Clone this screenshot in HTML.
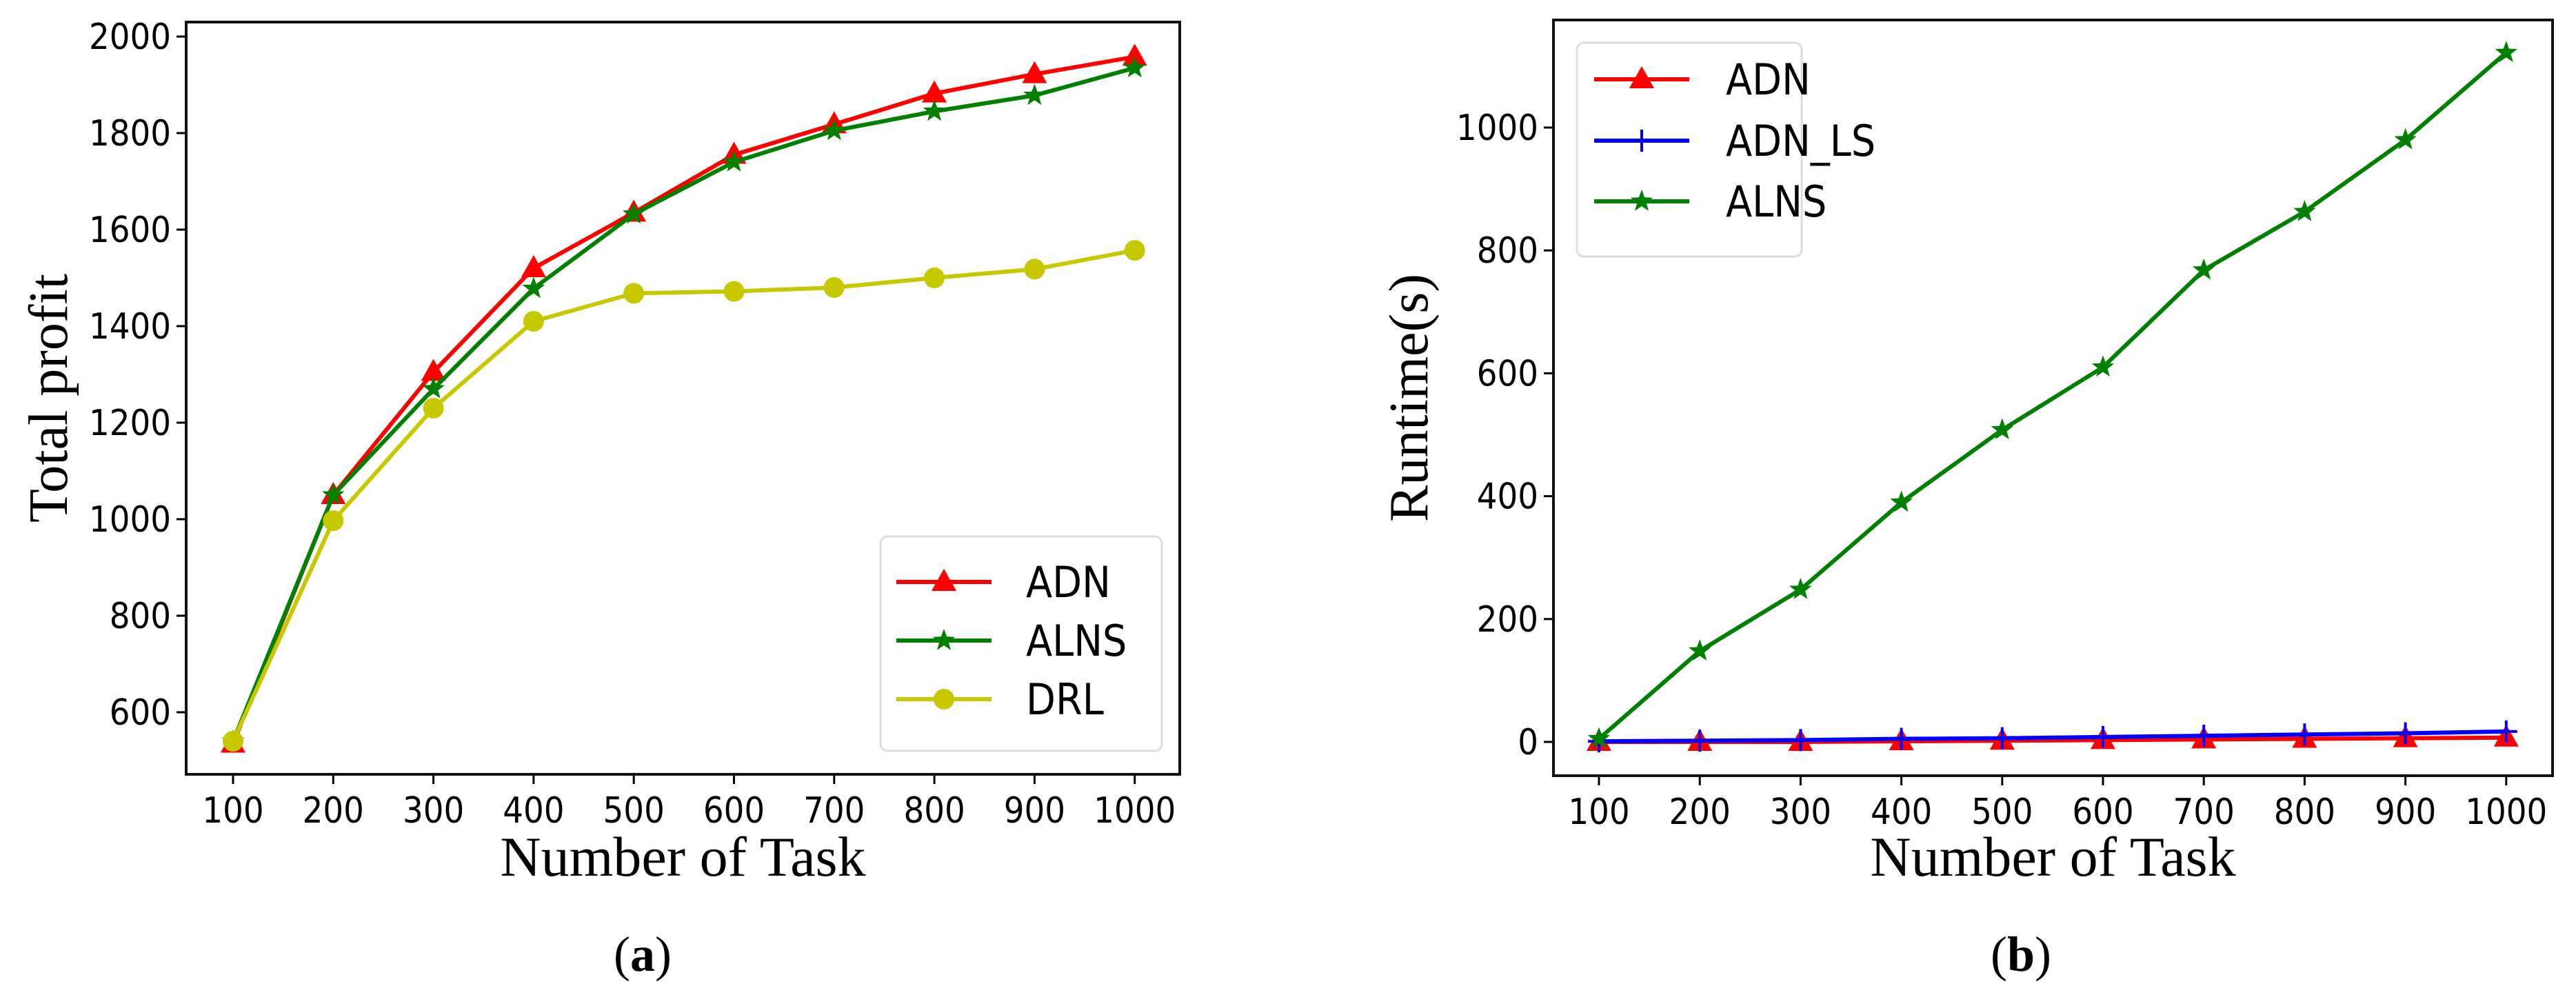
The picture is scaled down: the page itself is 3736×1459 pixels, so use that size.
<!DOCTYPE html>
<html><head><meta charset="utf-8"><style>
html,body{margin:0;padding:0;background:#fff}
svg{display:block}
text{font-family:"DejaVu Sans","Liberation Sans",sans-serif}
.serif{font-family:"Liberation Serif",serif}
</style></head><body>
<svg id="fig" width="3736" height="1459" viewBox="0 0 3736 1459" xmlns="http://www.w3.org/2000/svg"></svg>
<script>
const categories = [100,200,300,400,500,600,700,800,900,1000];
const profitADN  = [535,1050,1305,1520,1635,1755,1818,1882,1922,1958];
const profitALNS = [540,1050,1270,1478,1632,1740,1805,1845,1878,1935];
const profitDRL  = [540,997,1230,1410,1468,1472,1480,1500,1518,1557];
const profitTicks = [600,800,1000,1200,1400,1600,1800,2000];
const runADN   = [0,0,0,1,2,3,4,5,6,7];
const runADNLS = [1,2,3,5,6,8,10,12,14,17];
const runALNS  = [5,148,248,390,508,610,768,863,980,1122];
const runTicks = [0,200,400,600,800,1000];

const NS="http://www.w3.org/2000/svg";
const svg=document.getElementById('fig');
function mk(tag,attrs,parent,txt){const e=document.createElementNS(NS,tag);for(const k in attrs)e.setAttribute(k,attrs[k]);if(txt!==undefined)e.textContent=txt;(parent||svg).appendChild(e);return e;}

function marker(g,type,x,y,color){
  let e;
  if(type==='tri'){e=mk('polygon',{points:`${x},${y-19} ${x-18},${y+13} ${x+18},${y+13}`,fill:color},g);}
  else if(type==='star'){let p=[];for(let i=0;i<10;i++){const r=i%2?7:17,a=-Math.PI/2+i*Math.PI/5;p.push((x+r*Math.cos(a)).toFixed(1)+','+(y+r*Math.sin(a)).toFixed(1));}e=mk('polygon',{points:p.join(' '),fill:color},g);}
  else if(type==='circle'){e=mk('circle',{cx:x,cy:y,r:15,fill:color},g);}
  else if(type==='plus'){e=mk('path',{d:`M${x-16},${y}H${x+16}M${x},${y-16}V${y+16}`,stroke:color,'stroke-width':4},g);}
  
  
}

function chart(cfg){
  const g=mk('g',{});
  
  
  const xS=v=>cfg.x0+(v-100)/100*cfg.dx;
  const yS=v=>cfg.yRef+(cfg.vRef-v)*cfg.pxPer;
  cfg.yTicks.forEach(t=>{
    const y=yS(t);
    const tl=mk('line',{x1:cfg.L-14,x2:cfg.L,y1:y,y2:y,stroke:'#000','stroke-width':3},g);
    
    const tx=mk('text',{x:cfg.L-22,y:y+18,'font-size':52,'font-stretch':'condensed','text-anchor':'end'},g,String(t));
    
  });
  categories.forEach(c=>{
    const x=xS(c);
    const tl=mk('line',{x1:x,x2:x,y1:cfg.B,y2:cfg.B+14,stroke:'#000','stroke-width':3},g);
    
    const tx=mk('text',{x:x,y:cfg.B+70,'font-size':52,'font-stretch':'condensed','text-anchor':'middle'},g,String(c));
    
  });
  cfg.series.forEach(s=>{
    const pts=s.vals.map((v,i)=>xS(categories[i])+','+yS(v)).join(' ');
    const pl=mk('polyline',{points:pts,fill:'none',stroke:s.color,'stroke-width':6,'stroke-linejoin':'round'},g);
    
    s.vals.forEach((v,i)=>marker(g,s.mk,xS(categories[i]),yS(v),s.color));
  });
  const fr=mk('rect',{x:cfg.L,y:cfg.T,width:cfg.R-cfg.L,height:cfg.B-cfg.T,fill:'none',stroke:'#111','stroke-width':4},g);
  
  const lg=mk('g',{},g);
  
  mk('rect',{x:cfg.lg.x,y:cfg.lg.y,width:cfg.lg.w,height:cfg.lg.h,rx:10,fill:'#fff','fill-opacity':0.9,stroke:'#ddd','stroke-width':3},lg);
  cfg.series.forEach((s,i)=>{
    const y=cfg.lg.ey[i];
    const en=mk('g',{},lg);
    
    mk('line',{x1:cfg.lg.lx,x2:cfg.lg.lx+138,y1:y,y2:y,stroke:s.color,'stroke-width':6},en);
    marker(en,s.mk,cfg.lg.lx+69,y,s.color);
    mk('text',{x:cfg.lg.tx,y:y+22,'font-size':62,'font-stretch':'condensed'},en,s.label);
  });
  const yt=mk('text',{x:0,y:0,'font-size':80,'text-anchor':'middle',class:'serif',transform:`translate(${cfg.ytX},${(cfg.T+cfg.B)/2}) rotate(-90)`},g,cfg.yTitle);
  
  const xt=mk('text',{x:(cfg.L+cfg.R)/2,y:1270,'font-size':82,'text-anchor':'middle',class:'serif'},g,'Number of Task');
  
  const cp=mk('text',{x:cfg.capX,y:1408,'font-size':72,'text-anchor':'middle',class:'serif'},g);
  
  cp.innerHTML='(<tspan font-weight="bold">'+cfg.cap+'</tspan>)';
}

chart({name:'total-profit-chart',L:270,R:1711,T:32,B:1123,x0:338,dx:145.3,yRef:53,vRef:2000,pxPer:0.7,
  yTicks:profitTicks,yTitle:'Total profit',ytX:97,capX:932,cap:'a',
  series:[{id:'adn',label:'ADN',color:'#ff0000',mk:'tri',vals:profitADN},
          {id:'alns',label:'ALNS',color:'#008000',mk:'star',vals:profitALNS},
          {id:'drl',label:'DRL',color:'#c8c800',mk:'circle',vals:profitDRL}],
  lg:{x:1277,y:778,w:408,h:311,lx:1300,tx:1488,ey:[844,929,1014]}});

chart({name:'runtime-chart',L:2253,R:3702,T:29,B:1125,x0:2319,dx:146.2,yRef:1076,vRef:0,pxPer:0.891,
  yTicks:runTicks,yTitle:'Runtime(s)',ytX:2070,capX:2931,cap:'b',
  series:[{id:'adn',label:'ADN',color:'#ff0000',mk:'tri',vals:runADN},
          {id:'adn-ls',label:'ADN_LS',color:'#0000ff',mk:'plus',vals:runADNLS},
          {id:'alns',label:'ALNS',color:'#008000',mk:'star',vals:runALNS}],
  lg:{x:2287,y:62,w:326,h:310,lx:2312,tx:2503,ey:[115,204,292]}});
</script>
</body></html>
